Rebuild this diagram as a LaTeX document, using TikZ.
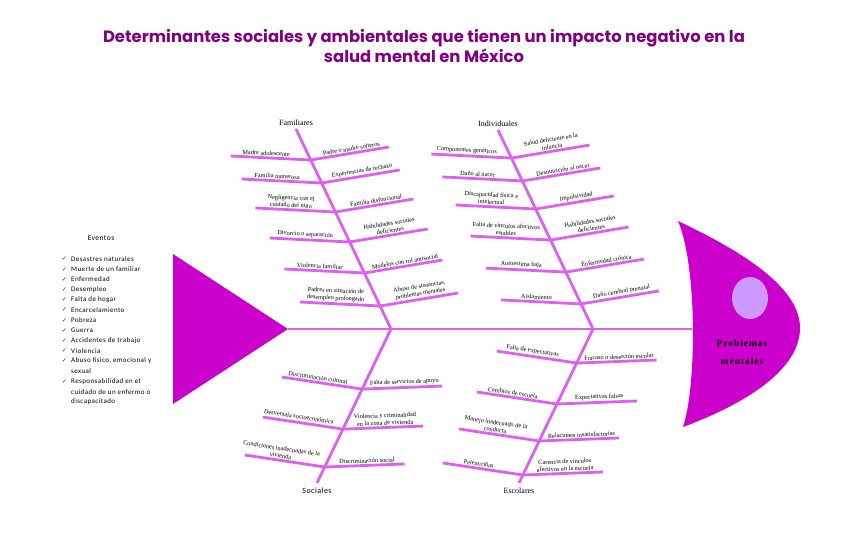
\documentclass[tikz,border=0pt]{standalone}
\usepackage{fontspec}
\setmainfont{Liberation Serif}
\newfontfamily\titlefont{Poppins}
\newfontfamily\listfont[LetterSpace=6]{Carlito}
\newfontfamily\symfont{DejaVu Sans}
\usetikzlibrary{calc}
\definecolor{fishbody}{RGB}{204,0,204}
\definecolor{bonecol}{RGB}{222,96,240}
\definecolor{eyecol}{RGB}{204,153,255}
\definecolor{titlepurple}{RGB}{128,0,128}
\tikzstyle{bone} = [draw=bonecol, line width=2.8pt]

\begin{document}
\begin{tikzpicture}[x=1pt, y=-1pt,
			sublabel/.style={above, sloped, inner sep=1pt, align=center, font=\fontsize{6.3}{7.3}\selectfont},
			catlabel/.style={inner sep=0pt, font=\fontsize{8}{9}\selectfont},
			evento/.style={anchor=west, inner sep=0pt, font=\listfont\fontsize{7}{8}\selectfont},
			check/.style={inner sep=0pt, text=black!85, font=\symfont\fontsize{6}{7}\selectfont}]
			\useasboundingbox (0,0) rectangle (848,552);
			% Titel
			\node[align=center, text=titlepurple, font=\titlefont\bfseries\fontsize{16.4}{20}\selectfont] (title) at (424,46) {Determinantes sociales y ambientales que tienen un impacto negativo en la\\salud mental en México};
			% Eventos
			\node[inner sep=0pt, font=\listfont\fontsize{7.5}{9}\selectfont] (eventos) at (101,238) {Eventos};
			\foreach [count=\n] \chk/\txt in {1/Desastres naturales, 1/Muerte de un familiar, 1/Enfermedad, 1/Desempleo, 1/Falta de hogar, 1/Encarcelamiento, 1/Pobreza, 1/Guerra, 1/Accidentes de trabajo, 1/Violencia, 1/{Abuso físico, emocional y}, 0/sexual, 1/Responsabilidad en el, 0/cuidado de un enfermo o, 0/discapacitado}{
				\node[evento] (ev\n) at (71,248.8+10.2*\n) {\txt};
				\ifnum\chk=1 \node[check] (chk\n) at (64.5,248.8+10.2*\n) {✓};\fi
			}
			% Cola y espina
			\coordinate (tail-a) at (173,254);
			\coordinate (tail-b) at (173,404);
			\coordinate (tail-tip) at (288,329);
			\coordinate (head-in) at (692,329);
			\fill[fishbody] (tail-a) -- (tail-tip) -- (tail-b) -- cycle;
			\draw[bone] (tail-tip) -- (head-in);
			% Espinas principales
			\coordinate (fam-top) at (296,129);  \coordinate (fam-bot) at (391,329);
			\coordinate (ind-top) at (498,130);  \coordinate (ind-bot) at (593,329);
			\coordinate (soc-bot) at (317,483);  \coordinate (esc-bot) at (519,483);
			\draw[bone] (fam-top) -- (fam-bot) -- (soc-bot);
			\draw[bone] (ind-top) -- (ind-bot) -- (esc-bot);
			\node[catlabel, above=3pt] (familiares) at (fam-top) {Familiares};
			\node[catlabel, above=3pt] (individuales) at (ind-top) {Individuales};
			\node[catlabel, below=5pt, font=\listfont\fontsize{8}{9}\selectfont] (sociales) at (soc-bot) {Sociales};
			\node[catlabel, below=5pt] (escolares) at (esc-bot) {Escolares};
			% Familiares
			\foreach [count=\i] \t/\ltxt/\rtxt in {0.155/{Madre adolescente}/{Padre o madre solteros}, 0.27/{Familia numerosa}/{Experiencias de rechazo}, 0.415/{Negligencia con el\\cuidado del niño}/{Familia disfuncional}, 0.565/{Divorcio o separación}/{Habilidades sociales\\deficientes}, 0.72/{Violencia familiar}/{Modelos con rol antisocial}, 0.885/{Padres en situación de\\desempleo prolongado}/{Abuso de sustancias,\\problemas mentales}}{
				\coordinate (fa-j\i) at ($(fam-top)!\t!(fam-bot)$);
				\draw[bone] ($(fa-j\i)+(-80,-4)$) -- node[sublabel, pos=0.44] (fa-l\i) {\ltxt} (fa-j\i) -- node[sublabel, pos=0.53] (fa-r\i) {\rtxt} ($(fa-j\i)+(78,-13)$);
			}
			% Individuales
			\foreach [count=\i] \t/\ltxt/\rtxt in {0.141/{Componentes genéticos}/{Salud deficiente en la\\infancia}, 0.256/{Daño al nacer}/{Desnutrición al nacer}, 0.397/{Discapacidad física e\\intelectual}/{Impulsividad}, 0.553/{Falta de vínculos afectivos\\estables}/{Habilidades sociales\\deficientes}, 0.714/{Autoestima baja}/{Enfermedad crónica}, 0.874/{Aislamiento}/{Daño cerebral prenatal}}{
				\coordinate (in-j\i) at ($(ind-top)!\t!(ind-bot)$);
				\draw[bone] ($(in-j\i)+(-80,-4)$) -- node[sublabel, pos=0.44] (in-l\i) {\ltxt} (in-j\i) -- node[sublabel, pos=0.53] (in-r\i) {\rtxt} ($(in-j\i)+(78,-13)$);
			}
			% Sociales
			\foreach [count=\i] \t/\ltxt/\rtxt in {0.39/{Discriminación cultural}/{Falta de servicios de apoyo}, 0.65/{Desventaja socioeconómica}/{Violencia y criminalidad\\en la zona de vivienda}, 0.896/{Condiciones inadecuadas de la\\vivienda}/{Discriminación social}}{
				\coordinate (so-j\i) at ($(fam-bot)!\t!(soc-bot)$);
				\draw[bone] ($(so-j\i)+(-80,-12)$) -- node[sublabel, pos=0.44] (so-l\i) {\ltxt} (so-j\i) -- node[sublabel, pos=0.53] (so-r\i) {\rtxt} ($(so-j\i)+(80,-3)$);
			}
			% Escolares
			\foreach [count=\i] \t/\ltxt/\rtxt in {0.221/{Falta de expectativas}/{Fracaso o deserción escolar}, 0.487/{Cambios de escuela}/{Expectativas falsas}, 0.727/{Manejo inadecuado de la\\conducta}/{Relaciones insatisfactorias}, 0.948/{Peleas/riñas}/{Carencia de vínculos\\afectivos en la escuela}}{
				\coordinate (es-j\i) at ($(ind-bot)!\t!(esc-bot)$);
				\draw[bone] ($(es-j\i)+(-80,-12)$) -- node[sublabel, pos=0.44] (es-l\i) {\ltxt} (es-j\i) -- node[sublabel, pos=0.53] (es-r\i) {\rtxt} ($(es-j\i)+(80,-3)$);
			}
			% Cabeza
			\fill[fishbody] (678,221) .. controls (750,255) and (800,290) .. (800,328) .. controls (800,368) and (750,402) .. (683,427) .. controls (697,385) and (697,265) .. (678,221) -- cycle;
			\fill[eyecol] (750,298) ellipse (18 and 21);
			\node[align=center, inner sep=0pt, font=\bfseries\addfontfeatures{LetterSpace=10}\fontsize{9.5}{18}\selectfont] (problemas) at (742,352) {Problemas\\mentales};
		\end{tikzpicture}
\end{document}
